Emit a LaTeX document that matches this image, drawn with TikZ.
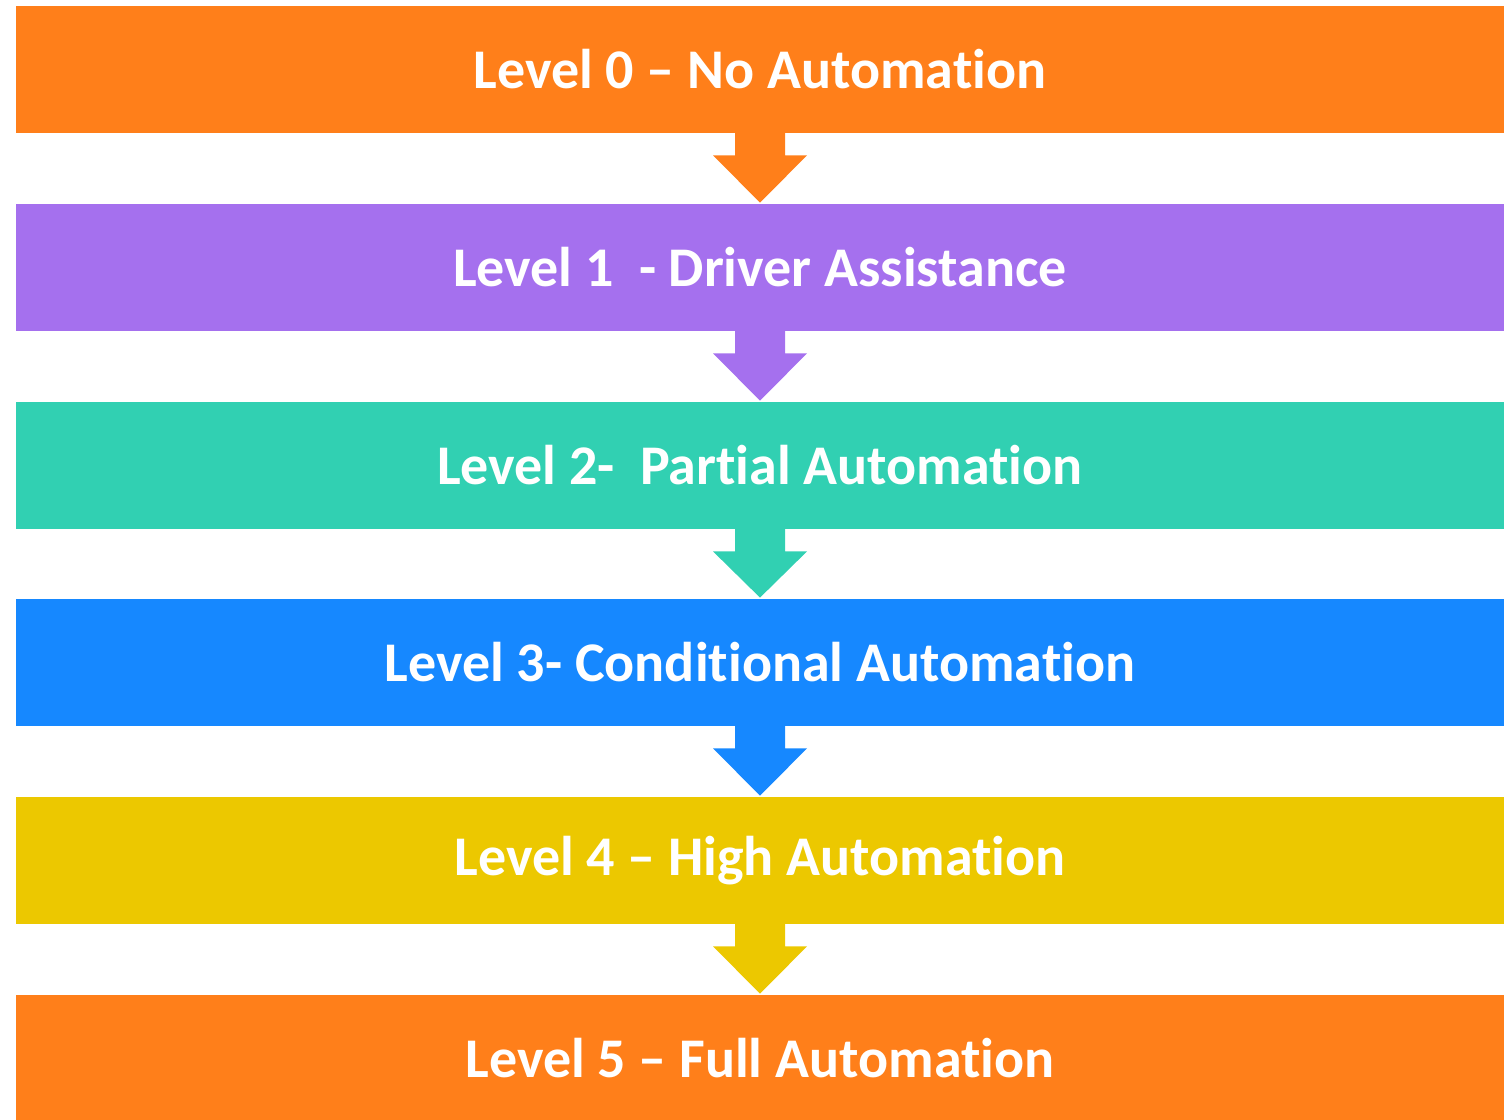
\documentclass[tikz,border=0pt]{standalone}
\usepackage{fontspec}
\setmainfont[Ligatures={TeX,NoCommon}]{Carlito}
\usepackage{xcolor}
\usetikzlibrary{calc}
\definecolor{lvorange}{RGB}{255,127,26}
\definecolor{lvpurple}{RGB}{165,112,238}
\definecolor{lvteal}{RGB}{49,208,178}
\definecolor{lvblue}{RGB}{22,136,255}
\definecolor{lvyellow}{RGB}{236,200,0}
\tikzset{
	levelbar/.style={minimum width=744pt, minimum height=63.5pt, inner sep=0pt, text=white, font=\fontsize{28}{32}\selectfont\bfseries},
}
\begin{document}
\begin{tikzpicture}[x=0.5pt,y=0.5pt]
		\useasboundingbox (0,0) rectangle (1504,-1119);
		\node[levelbar, fill=lvorange] (L0) at (760,-69.5) {Level 0 -- No Automation};
		\node[levelbar, fill=lvpurple] (L1) at (760,-267.5) {Level 1 \ - Driver Assistance};
		\node[levelbar, fill=lvteal] (L2) at (760,-465.5) {Level 2- \ Partial Automation};
		\node[levelbar, fill=lvblue] (L3) at (760,-662.5) {Level 3- Conditional Automation};
		\node[levelbar, fill=lvyellow] (L4) at (760,-860.5) {Level 4 -- High Automation};
		\node[levelbar, fill=lvorange] (L5) at (760,-1058.5) {Level 5 -- Full Automation};
		\foreach \a/\b/\c in {L0/L1/lvorange, L1/L2/lvpurple, L2/L3/lvteal, L3/L4/lvblue, L4/L5/lvyellow}{
			\fill[\c] ($(\a.south)+(-25,0.5)$) -- ($(\a.south)+(25,0.5)$) -- ++(0,-22.5) -- ++(22,0) -- ($(\b.north)+(0,1)$) -- ($(\a.south)+(-47,-22)$) -- ++(22,0) -- cycle;
		}
	\end{tikzpicture}
\end{document}
